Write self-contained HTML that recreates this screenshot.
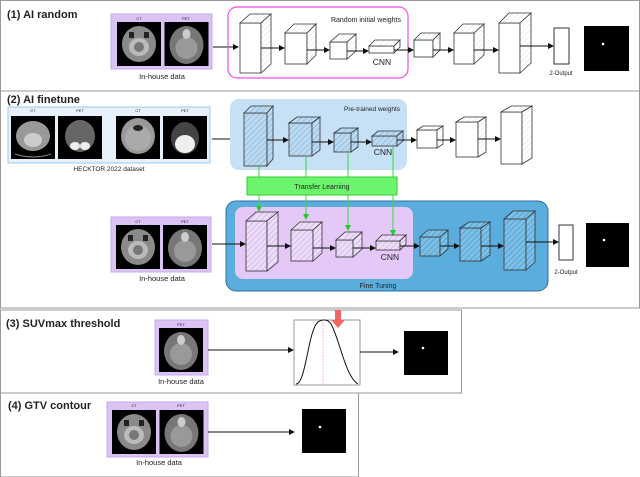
<!DOCTYPE html>
<html><head><meta charset="utf-8"><style>
html,body{margin:0;padding:0;background:#fff}
svg{display:block}
text{font-family:"Liberation Sans",sans-serif;fill:#222}
</style></head><body>
<svg width="640" height="477" viewBox="0 0 640 477" xmlns="http://www.w3.org/2000/svg">
<defs>
<pattern id="hb" width="4" height="4" patternUnits="userSpaceOnUse" patternTransform="rotate(45)">
<rect width="4" height="4" fill="#bcd9f2"/><line x1="0" y1="0" x2="0" y2="4" stroke="#7aa6cc" stroke-width="1"/></pattern>
<pattern id="hp" width="4" height="4" patternUnits="userSpaceOnUse" patternTransform="rotate(45)">
<rect width="4" height="4" fill="#efdcfb"/><line x1="0" y1="0" x2="0" y2="4" stroke="#b9a0d0" stroke-width="1"/></pattern>
<pattern id="hd" width="4" height="4" patternUnits="userSpaceOnUse" patternTransform="rotate(45)">
<rect width="4" height="4" fill="#7cc0e8"/><line x1="0" y1="0" x2="0" y2="4" stroke="#3d86b8" stroke-width="1"/></pattern>
<pattern id="hw" width="4" height="4" patternUnits="userSpaceOnUse" patternTransform="rotate(45)">
<rect width="4" height="4" fill="#fff"/><line x1="0" y1="0" x2="0" y2="4" stroke="#ccc" stroke-width="0.6"/></pattern>
<marker id="ar" markerWidth="6" markerHeight="6" refX="5" refY="3" orient="auto"><path d="M0,0 L6,3 L0,6 z" fill="#111"/></marker>
<marker id="ag" markerWidth="6" markerHeight="6" refX="5" refY="3" orient="auto"><path d="M0,0 L6,3 L0,6 z" fill="#2c2"/></marker>
<g id="ct"><rect width="44" height="44" fill="#000"/><ellipse cx="22" cy="22" rx="17" ry="18" fill="#8a8a8a"/><ellipse cx="22" cy="25" rx="10" ry="9" fill="#bbb"/><ellipse cx="22" cy="25" rx="5" ry="5" fill="#777"/><rect x="12" y="10" width="5" height="6" fill="#222"/><rect x="27" y="10" width="5" height="6" fill="#222"/></g>
<g id="pet"><rect width="44" height="44" fill="#000"/><ellipse cx="22" cy="23" rx="17" ry="19" fill="#777"/><ellipse cx="22" cy="26" rx="11" ry="11" fill="#999"/><ellipse cx="22" cy="12" rx="4" ry="5" fill="#ccc"/></g>
</defs>

<!-- panel borders -->
<rect x="0.5" y="0.5" width="639" height="90.5" fill="none" stroke="#999"/>
<rect x="0.5" y="91" width="639" height="217" fill="none" stroke="#999"/>
<rect x="0.5" y="310" width="461" height="83" fill="none" stroke="#999"/>
<rect x="0.5" y="393" width="358" height="84" fill="none" stroke="#999"/>

<!-- Panel 1 -->
<text x="7" y="18" font-size="11" font-weight="bold">(1) AI random</text>
<rect x="111" y="14" width="101" height="55" fill="#dcc3f5" stroke="#c9a8ea"/>
<text x="139" y="20" font-size="4" text-anchor="middle">CT</text>
<text x="186" y="20" font-size="4" text-anchor="middle">PET</text>
<use href="#ct" transform="translate(117,22)"/>
<use href="#pet" transform="translate(164.5,22)"/>
<text x="162" y="79" font-size="7.5" text-anchor="middle">In-house data</text>
<line x1="213" y1="47" x2="238" y2="47" stroke="#111" marker-end="url(#ar)"/>
<rect x="228" y="7" width="180" height="71" rx="9" fill="none" stroke="#f04ee8" stroke-width="1.2"/>
<text x="366" y="22" font-size="7" text-anchor="middle">Random initial weights</text>
<g fill="url(#hw)" stroke="#333" stroke-width="0.8">
<rect x="240" y="23" width="21" height="50" fill="#fff"/><polygon points="240,23 250,14 271,14 261,23"/><polygon points="261,23 271,14 271,64 261,73"/>
<rect x="285" y="33" width="22" height="31" fill="#fff"/><polygon points="285,33 294,24 316,24 307,33"/><polygon points="307,33 316,24 316,55 307,64"/>
<rect x="330" y="42" width="17" height="17" fill="#fff"/><polygon points="330,42 339,34 356,34 347,42"/><polygon points="347,42 356,34 356,51 347,59"/>
<rect x="369" y="46" width="25" height="7" fill="#fff"/><polygon points="369,46 375,40 400,40 394,46"/><polygon points="394,46 400,40 400,47 394,53"/>
<rect x="414" y="40" width="19" height="17" fill="#fff"/><polygon points="414,40 421,33 440,33 433,40"/><polygon points="433,40 440,33 440,50 433,57"/>
<rect x="454" y="33" width="20" height="31" fill="#fff"/><polygon points="454,33 463,24 484,24 474,33"/><polygon points="474,33 484,24 484,55 474,64"/>
<rect x="499" y="23" width="21" height="50" fill="#fff"/><polygon points="499,23 509,13 531,13 520,23"/><polygon points="520,23 531,13 531,63 520,73"/>
</g>
<text x="382" y="65" font-size="8.5" text-anchor="middle">CNN</text>
<g stroke="#111" marker-end="url(#ar)">
<line x1="261" y1="48" x2="284" y2="48"/><line x1="307" y1="50" x2="329" y2="50"/><line x1="347" y1="51" x2="368" y2="51"/>
<line x1="394" y1="50" x2="413" y2="50"/><line x1="433" y1="50" x2="453" y2="50"/><line x1="474" y1="50" x2="498" y2="50"/><line x1="520" y1="46" x2="553" y2="46"/>
</g>
<rect x="554" y="28" width="15" height="36" fill="#fff" stroke="#333"/>
<text x="561" y="75" font-size="6" text-anchor="middle">2-Output</text>
<rect x="584" y="26" width="45" height="45" fill="#000"/><circle cx="603" cy="44" r="1.3" fill="#fff"/>

<!-- Panel 2 -->
<text x="7" y="103" font-size="11" font-weight="bold">(2) AI finetune</text>
<rect x="8" y="107" width="202" height="56" fill="#e6f1fb" stroke="#9cc9ef"/>
<text x="33" y="112" font-size="4" text-anchor="middle">CT</text><text x="80" y="112" font-size="4" text-anchor="middle">PET</text>
<text x="138" y="112" font-size="4" text-anchor="middle">CT</text><text x="185" y="112" font-size="4" text-anchor="middle">PET</text>
<g transform="translate(11,116)"><rect width="44" height="43" fill="#000"/><ellipse cx="22" cy="20" rx="17" ry="15" fill="#999"/><ellipse cx="22" cy="24" rx="9" ry="7" fill="#ccc"/><path d="M4,38 Q22,44 40,38" stroke="#888" fill="none"/></g>
<g transform="translate(58,116)"><rect width="44" height="43" fill="#000"/><ellipse cx="22" cy="20" rx="15" ry="16" fill="#666"/><ellipse cx="17" cy="30" rx="5" ry="4" fill="#eee"/><ellipse cx="27" cy="30" rx="5" ry="4" fill="#eee"/></g>
<g transform="translate(116,116)"><rect width="44" height="43" fill="#000"/><ellipse cx="22" cy="20" rx="17" ry="18" fill="#999"/><ellipse cx="22" cy="22" rx="13" ry="13" fill="#aaa"/><ellipse cx="22" cy="12" rx="5" ry="3" fill="#222"/></g>
<g transform="translate(163,116)"><rect width="44" height="43" fill="#000"/><ellipse cx="22" cy="22" rx="14" ry="16" fill="#444"/><ellipse cx="22" cy="28" rx="10" ry="9" fill="#eee"/></g>
<text x="109" y="171" font-size="6.5" text-anchor="middle">HECKTOR 2022 dataset</text>
<line x1="212" y1="139" x2="243" y2="139" stroke="#111" marker-end="url(#ar)"/>
<rect x="230" y="99" width="177" height="71" rx="9" fill="#c6e0f6"/>
<text x="372" y="111" font-size="6.5" text-anchor="middle">Pre-trained weights</text>
<g stroke="#333" stroke-width="0.8">
<g fill="url(#hb)">
<rect x="244" y="113" width="23" height="53"/><polygon points="244,113 251,106 273,106 267,113"/><polygon points="267,113 273,106 273,159 267,166"/>
<rect x="289" y="123" width="23" height="33"/><polygon points="289,123 297,117 320,117 312,123"/><polygon points="312,123 320,117 320,150 312,156"/>
<rect x="334" y="133" width="17" height="19"/><polygon points="334,133 341,128 358,128 351,133"/><polygon points="351,133 358,128 358,147 351,152"/>
<rect x="372" y="136" width="25" height="10"/><polygon points="372,136 378,131 403,131 397,136"/><polygon points="397,136 403,131 403,141 397,146"/>
</g>
<g fill="url(#hw)">
<rect x="417" y="130" width="20" height="18" fill="#fff"/><polygon points="417,130 423,126 443,126 437,130"/><polygon points="437,130 443,126 443,144 437,148"/>
<rect x="456" y="122" width="22" height="35" fill="#fff"/><polygon points="456,122 464,117 486,117 478,122"/><polygon points="478,122 486,117 486,152 478,157"/>
<rect x="501" y="112" width="21" height="52" fill="#fff"/><polygon points="501,112 511,106 532,106 522,112"/><polygon points="522,112 532,106 532,158 522,164"/>
</g></g>
<text x="383" y="155" font-size="8.5" text-anchor="middle">CNN</text>
<g stroke="#111" marker-end="url(#ar)">
<line x1="267" y1="140" x2="288" y2="140"/><line x1="312" y1="142" x2="333" y2="142"/><line x1="351" y1="142" x2="371" y2="142"/>
<line x1="397" y1="140" x2="416" y2="140"/><line x1="437" y1="140" x2="455" y2="140"/><line x1="478" y1="139" x2="500" y2="139"/>
</g>

<!-- Fine tuning -->
<rect x="226" y="201" width="322" height="90" rx="10" fill="#5aaddc" stroke="#2d6fa3"/>
<rect x="235" y="207" width="178" height="72" rx="8" fill="#e4c8f8"/>
<text x="378" y="288" font-size="7" text-anchor="middle">Fine Tuning</text>

<!-- green lines -->
<g stroke="#33dd33" stroke-width="1" marker-end="url(#ag)">
<line x1="259" y1="166" x2="259" y2="211"/><line x1="306" y1="156" x2="306" y2="219"/><line x1="348" y1="152" x2="348" y2="230"/><line x1="393" y1="146" x2="393" y2="235"/>
</g>
<rect x="247" y="177" width="150" height="18" fill="#6cf46c" stroke="#33cc33"/>
<text x="322" y="189" font-size="7" text-anchor="middle">Transfer Learning</text>

<rect x="111" y="217" width="100" height="55" fill="#dcc3f5" stroke="#c9a8ea"/>
<text x="138" y="223" font-size="4" text-anchor="middle">CT</text><text x="185" y="223" font-size="4" text-anchor="middle">PET</text>
<use href="#ct" transform="translate(116,225)"/><use href="#pet" transform="translate(163,225)"/>
<text x="162" y="281" font-size="7.5" text-anchor="middle">In-house data</text>
<line x1="212" y1="244" x2="245" y2="244" stroke="#111" marker-end="url(#ar)"/>
<g stroke="#333" stroke-width="0.8">
<g fill="url(#hp)">
<rect x="246" y="221" width="21" height="50"/><polygon points="246,221 256,212 278,212 267,221"/><polygon points="267,221 278,212 278,262 267,271"/>
<rect x="291" y="230" width="22" height="31"/><polygon points="291,230 300,222 322,222 313,230"/><polygon points="313,230 322,222 322,253 313,261"/>
<rect x="336" y="240" width="17" height="17"/><polygon points="336,240 345,232 362,232 353,240"/><polygon points="353,240 362,232 362,249 353,257"/>
<rect x="376" y="241" width="24" height="9"/><polygon points="376,241 382,235 406,235 400,241"/><polygon points="400,241 406,235 406,244 400,250"/>
</g>
<g fill="url(#hd)">
<rect x="420" y="237" width="20" height="19"/><polygon points="420,237 428,230 448,230 440,237"/><polygon points="440,237 448,230 448,249 440,256"/>
<rect x="460" y="228" width="21" height="33"/><polygon points="460,228 469,222 490,222 481,228"/><polygon points="481,228 490,222 490,255 481,261"/>
<rect x="504" y="219" width="22" height="51"/><polygon points="504,219 513,211 535,211 526,219"/><polygon points="526,219 535,211 535,262 526,270"/>
</g></g>
<text x="390" y="260" font-size="8.5" text-anchor="middle">CNN</text>
<g stroke="#111" marker-end="url(#ar)">
<line x1="267" y1="246" x2="290" y2="246"/><line x1="313" y1="248" x2="335" y2="248"/><line x1="353" y1="248" x2="375" y2="248"/>
<line x1="400" y1="246" x2="419" y2="246"/><line x1="440" y1="246" x2="459" y2="246"/><line x1="481" y1="246" x2="503" y2="246"/><line x1="526" y1="242" x2="558" y2="242"/>
</g>
<rect x="559" y="225" width="14" height="35" fill="#fff" stroke="#333"/>
<text x="566" y="274" font-size="6" text-anchor="middle">2-Output</text>
<rect x="586" y="223" width="43" height="44" fill="#000"/><circle cx="604" cy="240" r="1.3" fill="#fff"/>

<!-- Panel 3 -->
<text x="6" y="327" font-size="11" font-weight="bold">(3) SUVmax threshold</text>
<rect x="155" y="320" width="53" height="55" fill="#dcc3f5" stroke="#c9a8ea"/>
<text x="181" y="326" font-size="4" text-anchor="middle">PET</text>
<use href="#pet" transform="translate(159,328)"/>
<text x="181" y="384" font-size="7.5" text-anchor="middle">In-house data</text>
<line x1="208" y1="350" x2="293" y2="350" stroke="#111" marker-end="url(#ar)"/>
<rect x="294" y="320" width="66" height="65" fill="#fff" stroke="#999"/>
<line x1="323" y1="322" x2="323" y2="385" stroke="#f3b0b0" stroke-width="0.8" stroke-dasharray="2,1"/>
<path d="M296,384 C306,384 308,330 318,322 C322,319 328,319 331,324 C340,340 345,376 358,384" fill="none" stroke="#111" stroke-width="1"/>
<path d="M335,310 h6 v10 h4 l-7,8 l-7,-8 h4 z" fill="#f26565"/>
<line x1="360" y1="352" x2="398" y2="352" stroke="#111" marker-end="url(#ar)"/>
<rect x="404" y="331" width="44" height="44" fill="#000"/><circle cx="423" cy="348" r="1.3" fill="#fff"/>

<!-- Panel 4 -->
<text x="8" y="409" font-size="11" font-weight="bold">(4) GTV contour</text>
<rect x="107" y="402" width="101" height="55" fill="#dcc3f5" stroke="#c9a8ea"/>
<text x="134" y="407" font-size="4" text-anchor="middle">CT</text><text x="181" y="407" font-size="4" text-anchor="middle">PET</text>
<use href="#ct" transform="translate(112,410)"/><use href="#pet" transform="translate(159.5,410)"/>
<text x="159" y="465" font-size="7.5" text-anchor="middle">In-house data</text>
<line x1="208" y1="432" x2="294" y2="432" stroke="#111" marker-end="url(#ar)"/>
<rect x="302" y="409" width="44" height="44" fill="#000"/><circle cx="320" cy="427" r="1.3" fill="#fff"/>
</svg>
</body></html>
